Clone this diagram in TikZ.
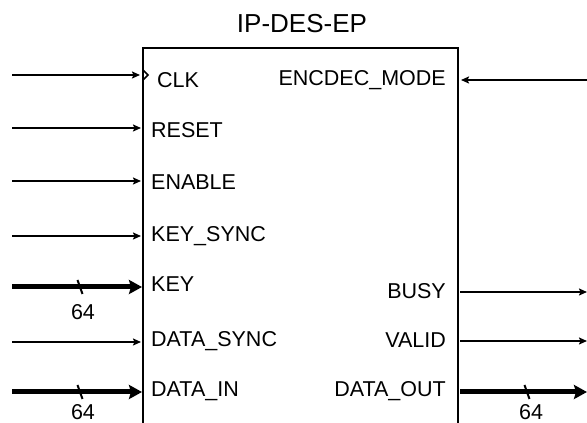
\documentclass[tikz,border=0pt]{standalone}
\usepackage{fontspec}
\setmainfont{Liberation Sans}
\usetikzlibrary{arrows.meta}
\begin{document}
\begin{tikzpicture}[x=1pt,y=1pt,
  pinlabel/.style={inner sep=0pt, font=\fontsize{21.5}{24}\selectfont},
  titlelabel/.style={inner sep=0pt, font=\fontsize{26}{30}\selectfont},
  thinwire/.style={line width=2pt, -{Stealth[length=8pt,width=7pt,inset=1.5pt]}},
  thickwire/.style={line width=5pt, -{Stealth[length=13pt,width=14pt,inset=2pt]}},
  boxline/.style={line width=2.6pt},
  busmark/.style={line width=2pt},
  ]
\useasboundingbox (0,0) rectangle (587,423);
% block outline (bottom is outside the picture)
\coordinate (bl) at (143,-3);
\coordinate (tl) at (143,375);
\coordinate (tr) at (458,375);
\coordinate (br) at (458,-3);
\draw[boxline] (bl) -- (tl) -- (tr) -- (br);
\node[titlelabel] (title) at (302,399) {IP-DES-EP};

% left side inputs
\coordinate (clkS) at (12,348);   \coordinate (clkE) at (140,348);
\coordinate (rstS) at (12,295);   \coordinate (rstE) at (141,295);
\coordinate (enS) at (12,242);    \coordinate (enE) at (141,242);
\coordinate (ksS) at (12,187);    \coordinate (ksE) at (141,187);
\coordinate (keyS) at (12,136);   \coordinate (keyE) at (142,136);
\coordinate (dsS) at (12,81);     \coordinate (dsE) at (141,81);
\coordinate (diS) at (12,31);     \coordinate (diE) at (142,31);

\draw[thinwire] (clkS) -- (clkE);
\draw[thinwire] (rstS) -- (rstE);
\draw[thinwire] (enS) -- (enE);
\draw[thinwire] (ksS) -- (ksE);
\draw[thickwire] (keyS) -- (keyE);
\draw[thinwire] (dsS) -- (dsE);
\draw[thickwire] (diS) -- (diE);

% clock marker
\coordinate (ck) at (143,348);
\draw[line width=1.6pt] ([yshift=5pt]ck) -- ([xshift=5pt]ck) -- ([yshift=-5pt]ck);

\node[pinlabel, anchor=west] (lclk) at (157,343) {CLK};
\node[pinlabel, anchor=west] (lrst) at (151,293) {RESET};
\node[pinlabel, anchor=west] (len) at (151,241) {ENABLE};
\node[pinlabel, anchor=west] (lks) at (151,187) {KEY\_SYNC};
\node[pinlabel, anchor=west] (lkey) at (151,139) {KEY};
\node[pinlabel, anchor=west] (lds) at (151,82) {DATA\_SYNC};
\node[pinlabel, anchor=west] (ldi) at (151,32) {DATA\_IN};

% right side
\coordinate (modeS) at (587,343); \coordinate (modeE) at (461,343);
\coordinate (busyS) at (460,131); \coordinate (busyE) at (587,131);
\coordinate (valS) at (460,82);   \coordinate (valE) at (587,82);
\coordinate (doS) at (460,31);    \coordinate (doE) at (587,31);

\draw[thinwire] (modeS) -- (modeE);
\draw[thinwire] (busyS) -- (busyE);
\draw[thinwire] (valS) -- (valE);
\draw[thickwire] (doS) -- (doE);

\node[pinlabel, anchor=east] (lmode) at (446,343) {ENCDEC\_MODE};
\node[pinlabel, anchor=east] (lbusy) at (446,132) {BUSY};
\node[pinlabel, anchor=east] (lval) at (446,83) {VALID};
\node[pinlabel, anchor=east] (ldo) at (446,32) {DATA\_OUT};

% bus width markers
\coordinate (m1) at (80,136);
\coordinate (m2) at (80,31);
\coordinate (m3) at (527,31);
\foreach \m in {m1,m2,m3}
  \draw[busmark] ([shift={(-2.5,7)}]\m) -- ([shift={(2.5,-7)}]\m);
\node[pinlabel] (w1) at (83,111) {64};
\node[pinlabel] (w2) at (83,11) {64};
\node[pinlabel] (w3) at (531,11) {64};
\end{tikzpicture}
\end{document}
